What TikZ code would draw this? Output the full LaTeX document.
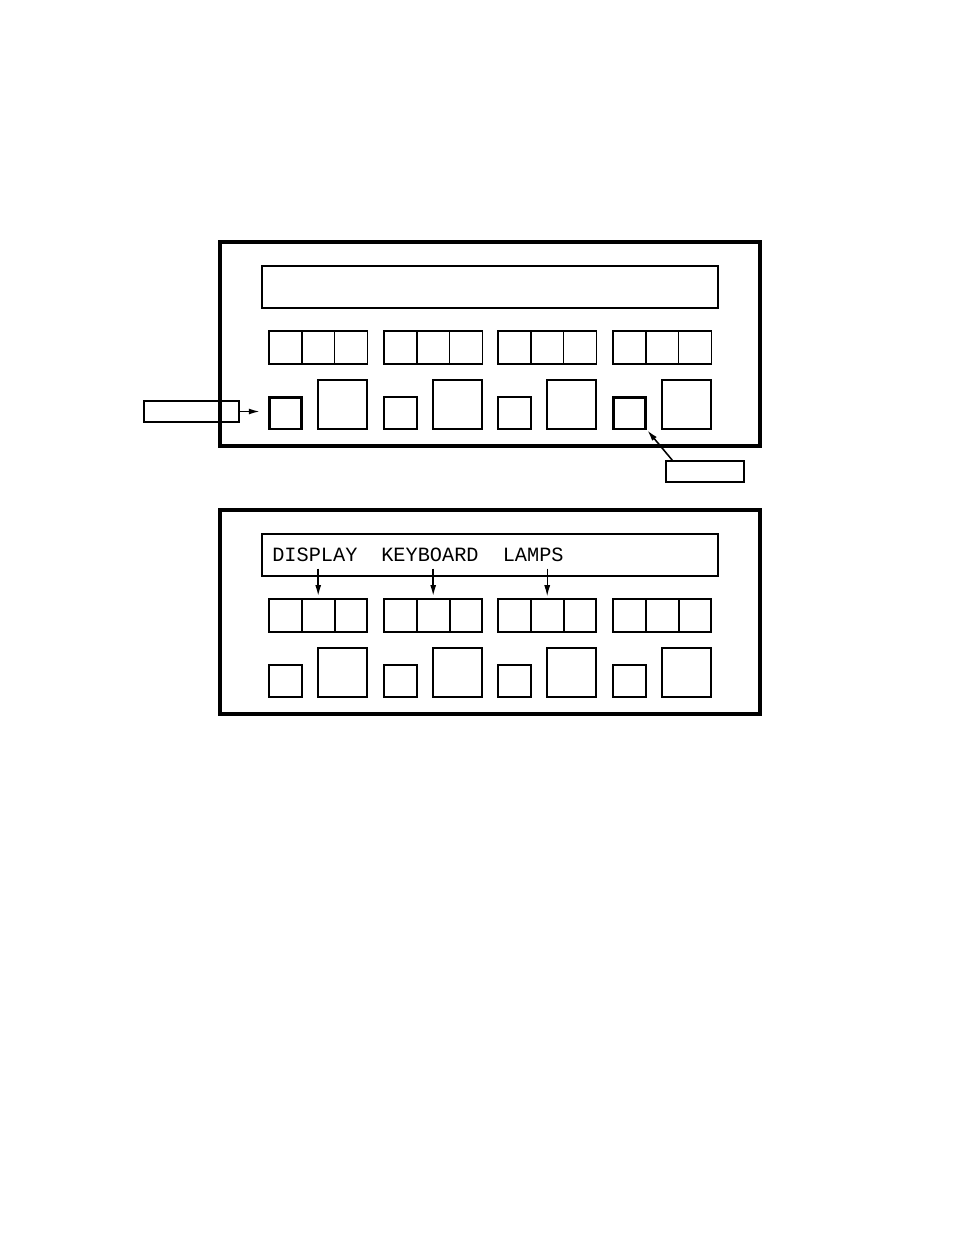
\documentclass[tikz,border=0pt]{standalone}
\usepackage{fontspec}
\setmonofont{Liberation Mono}
\usetikzlibrary{arrows.meta,positioning}

\begin{document}
\begin{tikzpicture}[x=0.6415pt,y=-0.6415pt,
    panel/.style={line width=2pt},
    cell/.style={draw,inner sep=0pt,minimum width=21.1pt,minimum height=21.2pt},
    key/.style={draw,inner sep=0pt,minimum width=21.1pt,minimum height=20.5pt},
    hotkey/.style={key,line width=1.9pt},
    bigkey/.style={draw,inner sep=0pt,minimum width=31.5pt,minimum height=31.5pt},
    tag/.style={draw,line width=0.9pt,inner sep=0pt,minimum height=13.5pt},
    lbl/.style={font=\ttfamily\fontsize{13}{15}\selectfont,anchor=base west,inner sep=0pt},
    pointer/.style={-{Latex[length=7pt,width=3.8pt]},line width=1pt}]
  \useasboundingbox (0,0) rectangle (954,1235);

  % upper panel
  \draw[panel] (220,242) rectangle (760,446);
  \draw[line width=0.9pt] (262,266) rectangle (718,308);
  \foreach \g [count=\i] in {269,384,498,613} {
    \foreach \k in {0,1,2}
      \node[cell,line width=1pt] (u\i-\k) at (\g+16.4+32.8*\k,347.5) {};
    \node[bigkey,line width=1pt] (ub\i) at (\g+73.5,404.5) {};
  }
  \node[hotkey] (us1) at (285.5,413) {};
  \node[key,line width=1.2pt] (us2) at (400.5,413) {};
  \node[key,line width=1.2pt] (us3) at (514.5,413) {};
  \node[hotkey] (us4) at (629.5,413) {};
  \node[tag,minimum width=61pt] (tagL) at (191.5,411.5) {};
  \node[tag,minimum width=50pt] (tagR) at (705,471.5) {};
  \draw[pointer,shorten >=5pt] (tagL.east) -- (tagL.east -| us1.west);
  \draw[pointer] ([xshift=4.5pt]tagR.north west) -- (us4.south east);

  % lower panel
  \begin{scope}[shift={(0,268)}]
    \draw[panel] (220,242) rectangle (760,446);
    \draw[line width=0.9pt] (262,266) rectangle (718,308);
    \foreach \g [count=\i] in {269,384,498,613} {
      \foreach \k in {0,1,2}
        \node[cell,line width=1.3pt] (l\i-\k) at (\g+16.4+32.8*\k,347.5) {};
      \node[key,line width=1.3pt] (ls\i) at (\g+16.5,413) {};
      \node[bigkey,line width=1.1pt] (lb\i) at (\g+73.5,404.5) {};
    }
    \node[lbl] (disp) at (272,293) {DISPLAY};
    \node[lbl] (keyb) at (381,293) {KEYBOARD};
    \node[lbl] (lamp) at (502.5,293) {LAMPS};
  \end{scope}
  \draw[pointer,shorten <=4.5pt,shorten >=1.2pt] (disp.south -| l1-1.north) -- (l1-1.north);
  \draw[pointer,shorten <=4.5pt,shorten >=1.2pt] (keyb.south -| l2-1.north) -- (l2-1.north);
  \draw[pointer,line width=0.6pt,shorten <=4.5pt,shorten >=1.2pt] (lamp.south -| l3-1.north) -- (l3-1.north);
\end{tikzpicture}
\end{document}
